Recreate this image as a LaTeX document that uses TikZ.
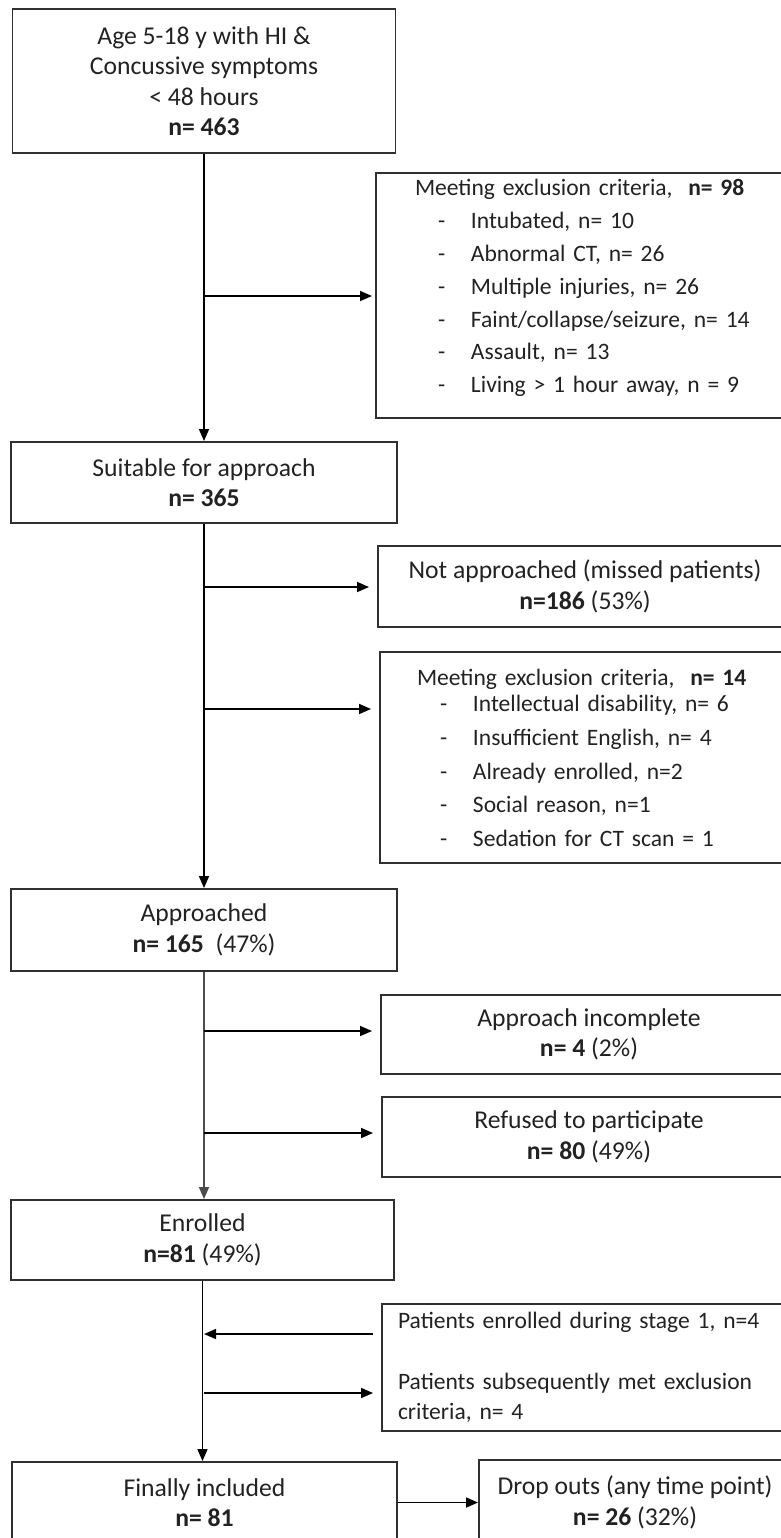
\documentclass[tikz,border=0pt]{standalone}
\usepackage{fontspec}
\setmainfont{Carlito}
\usetikzlibrary{arrows.meta,positioning}
\definecolor{ink}{HTML}{222222}
\definecolor{frame}{HTML}{303030}

\newcommand{\crit}[1]{\hspace*{0.46cm}\makebox[0.66cm][l]{-}#1}

\tikzset{
  box/.style={draw=frame, line width=1.1pt, text=ink, align=center, inner sep=0pt,
    font=\fontsize{14.6}{17.3}\selectfont},
  listbox/.style={box, align=left, inner xsep=0.78cm, text width=8cm,
    font=\fontsize{13.4}{17.3}\selectfont},
  flow/.style={draw=black, line width=0.9pt, -{Triangle[length=0.24cm,width=0.2cm]}},
  side/.style={flow, shorten >=0.16cm}
}

\begin{document}
\begin{tikzpicture}
  \useasboundingbox (0,0) rectangle (15.62,-30.76);

  % main column
  \node[box, minimum width=7.66cm, minimum height=2.88cm] (age) at (4.08,-1.62)
    {Age 5-18 y with HI \&\\Concussive symptoms\\< 48 hours\\\textbf{n= 463}};
  \node[box, minimum width=7.72cm, minimum height=1.62cm] (suit) at (4.08,-9.65)
    {Suitable for approach\\\textbf{n= 365}};
  \node[box, minimum width=7.72cm, minimum height=1.64cm] (appr) at (4.08,-18.60)
    {Approached\\\textbf{n= 165}~ (47\%)};
  \node[box, minimum width=7.66cm, minimum height=1.60cm] (enrol) at (4.05,-24.80)
    {Enrolled\\\textbf{n=81} (49\%)};
  \node[box, minimum width=7.70cm, minimum height=1.62cm] (final) at (4.09,-30.05)
    {Finally included\\\textbf{n= 81}};

  % side boxes
  \node[listbox, minimum height=4.90cm, text depth=4.32cm] (excla) at (12.30,-5.91)
    {Meeting exclusion criteria, \ \textbf{n= 98}\\[1.4pt]
     \crit{Intubated, n= 10}\\[1.4pt]
     \crit{Abnormal CT, n= 26}\\[1.4pt]
     \crit{Multiple injuries, n= 26}\\[1.4pt]
     \crit{Faint/collapse/seizure, n= 14}\\[1.4pt]
     \crit{Assault, n= 13}\\[1.4pt]
     \crit{Living > 1 hour away, n = 9}};
  \node[box, minimum width=8.28cm, minimum height=1.62cm] (missed) at (11.70,-11.73)
    {Not approached (missed patients)\\\textbf{n=186} (53\%)};
  \node[listbox, minimum height=4.22cm, inner xsep=0.74cm] (exclb) at (12.34,-15.15)
    {Meeting exclusion criteria, \ \textbf{n= 14}\\[-2pt]
     \crit{Intellectual disability, n= 6}\\[1.8pt]
     \crit{Insufficient English, n= 4}\\[1.8pt]
     \crit{Already enrolled, n=2}\\[1.8pt]
     \crit{Social reason, n=1}\\[1.8pt]
     \crit{Sedation for CT scan = 1}};
  \node[box, minimum width=8.32cm, minimum height=1.58cm] (incompl) at (11.78,-20.69)
    {Approach incomplete\\\textbf{n= 4} (2\%)};
  \node[box, minimum width=8.28cm, minimum height=1.60cm] (refused) at (11.78,-22.74)
    {Refused to participate\\\textbf{n= 80} (49\%)};
  \node[box, align=left, inner xsep=0.32cm, minimum height=2.54cm, text width=8.5cm,
    font=\fontsize{13.4}{17.3}\selectfont] (stage) at (12.21,-27.35)
    {Patients enrolled during stage 1, n=4\\[0.6cm]
     Patients subsequently met exclusion\\criteria, n= 4};
  \node[box, minimum width=6.24cm, minimum height=1.70cm] (drop) at (12.70,-30.05)
    {Drop outs (any time point)\\\textbf{n= 26} (32\%)};

  % trunk
  \draw[flow] (age) -- (suit);
  \draw[flow] (suit) -- (appr);
  \draw[flow, draw=black!70] (appr.south) -- (appr.south |- enrol.north);
  \draw[flow] (enrol.south) -- (enrol.south |- final.north);

  % branches
  \coordinate (b1) at (4.08,-5.92);
  \coordinate (b2) at (4.08,-11.74);
  \coordinate (b3) at (4.08,-14.18);
  \coordinate (b4) at (4.08,-20.62);
  \coordinate (b5) at (4.08,-22.66);
  \coordinate (b6) at (4.08,-26.68);
  \coordinate (b7) at (4.08,-27.86);

  \draw[flow, shorten >=0.06cm] (b1) -- (b1 -| excla.west);
  \draw[side] (b2) -- (b2 -| missed.west);
  \draw[side] (b3) -- (b3 -| exclb.west);
  \draw[side] (b4) -- (b4 -| incompl.west);
  \draw[side] (b5) -- (b5 -| refused.west);
  \draw[flow, shorten <=0.16cm] (b6 -| stage.west) -- (b6);
  \draw[side] (b7) -- (b7 -| stage.west);
  \draw[flow] (final) -- (drop);
\end{tikzpicture}
\end{document}
